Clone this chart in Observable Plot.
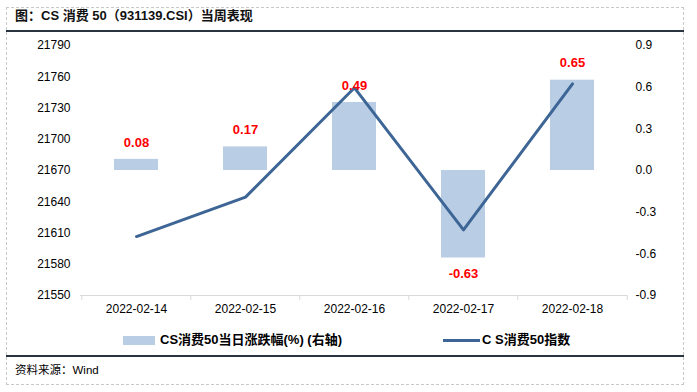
<!DOCTYPE html>
<html><head><meta charset="utf-8">
<script src="https://cdn.jsdelivr.net/npm/d3@7"></script>
<script src="https://cdn.jsdelivr.net/npm/@observablehq/plot@0.6"></script>
<style>
body{margin:0;background:#fff;}
#wrap{position:relative;width:697px;height:392px;overflow:hidden;font-family:"Liberation Sans","Noto Sans CJK SC",sans-serif;color:#000;}
#frame{position:absolute;left:6px;top:7px;width:678px;height:378px;border:1px dashed #c8c8c8;box-sizing:border-box;}
.sep{position:absolute;left:6px;width:678px;height:2px;background:#2a3340;}
#title{position:absolute;left:15px;top:7px;line-height:18px;font-size:13px;font-weight:bold;font-family:"Liberation Sans","Noto Sans CJK SC",sans-serif;color:#111;white-space:nowrap;}
#source{position:absolute;left:15px;top:362px;line-height:16px;font-size:11.5px;font-family:"Liberation Sans","Noto Sans CJK SC",sans-serif;white-space:nowrap;}
#chart{position:absolute;left:0;top:0;}
.lg{position:absolute;line-height:16px;font-size:13px;font-weight:bold;white-space:nowrap;font-family:"Liberation Sans","Noto Sans CJK SC",sans-serif;}
.sw{position:absolute;}
</style></head>
<body>
<div id="wrap">
  <div id="frame"></div>
  <div id="title">图：CS 消费 50（931139.CSI）当周表现</div>
  <div class="sep" style="top:30px"></div>
  <div id="chart"></div>
  <div class="sw" style="left:123px;top:336px;width:32px;height:9px;background:#b9cde5"></div>
  <div class="lg" style="left:160px;top:332px">CS消费50当日涨跌幅(%) (右轴)</div>
  <div class="sw" style="left:443px;top:339px;width:37px;height:3px;background:#3d6595"></div>
  <div class="lg" style="left:482px;top:332px">C S消费50指数</div>
  <div class="sep" style="top:355px"></div>
  <div id="source">资料来源：Wind</div>
</div>
<script>
const dates = ["2022-02-14", "2022-02-15", "2022-02-16", "2022-02-17", "2022-02-18"];
const indexValues = [21606.6, 21644.4, 21749.4, 21613.0, 21753.2];
const dailyChange = [0.08, 0.17, 0.49, -0.63, 0.65];
const leftTicks = [21550, 21580, 21610, 21640, 21670, 21700, 21730, 21760, 21790];
const rightTicks = [-0.9, -0.6, -0.3, 0.0, 0.3, 0.6, 0.9];
const leftDomain = [21550, 21790];
const rightDomain = [-0.9, 0.9];

const toLeft = d3.scaleLinear().domain(rightDomain).range(leftDomain);
const data = dates.map((d, i) => ({date: d, index: indexValues[i], change: dailyChange[i]}));

const W = 697, H = 320, mL = 80, mR = 70, mT = 45, mB = 25;
const step = (W - mL - mR) / dates.length;
const barColor = "#b9cde5", lineColor = "#3d6595", axisColor = "#d9d9d9";

const chart = Plot.plot({
  width: W, height: H, marginTop: mT, marginBottom: mB, marginLeft: mL, marginRight: mR,
  style: {fontFamily: "Liberation Sans, Arial, sans-serif", fontSize: "12px", color: "#000", background: "transparent", overflow: "visible"},
  x: {domain: dates, paddingInner: 0.6, paddingOuter: 0.3, axis: null},
  y: {domain: leftDomain, axis: null},
  marks: [
    Plot.axisY({ticks: leftTicks, anchor: "left", tickSize: 0, tickPadding: 10, label: null, tickFormat: d => String(d)}),
    Plot.axisY({ticks: rightTicks.map(v => toLeft(v)), anchor: "right", tickSize: 0, tickPadding: 8, label: null,
      tickFormat: d => toLeft.invert(d).toFixed(1)}),
    Plot.barY(data, {x: "date", y1: () => toLeft(0), y2: d => toLeft(d.change), fill: barColor}),
    Plot.ruleY([leftDomain[0]], {stroke: axisColor, strokeWidth: 1}),
    Plot.ruleX(dates, {x: d => d, dx: -step / 2, y1: () => leftDomain[0], y2: () => leftDomain[0], insetBottom: -5, stroke: axisColor}),
    Plot.ruleX([dates[dates.length - 1]], {x: d => d, dx: step / 2, y1: () => leftDomain[0], y2: () => leftDomain[0], insetBottom: -5, stroke: axisColor}),
    Plot.axisX({tickSize: 0, tickPadding: 9, label: null, fontSize: 12}),
    Plot.lineY(data, {x: "date", y: "index", stroke: lineColor, strokeWidth: 3}),
    Plot.text(data.filter(d => d.change >= 0), {x: "date", y: d => toLeft(d.change), text: d => d.change.toFixed(2), dy: -17, fill: "#ff0000", fontWeight: "bold", fontSize: 13}),
    Plot.text(data.filter(d => d.change < 0), {x: "date", y: d => toLeft(d.change), text: d => d.change.toFixed(2), dy: 16, fill: "#ff0000", fontWeight: "bold", fontSize: 13})
  ]
});
document.getElementById("chart").appendChild(chart);
</script>
</body></html>
